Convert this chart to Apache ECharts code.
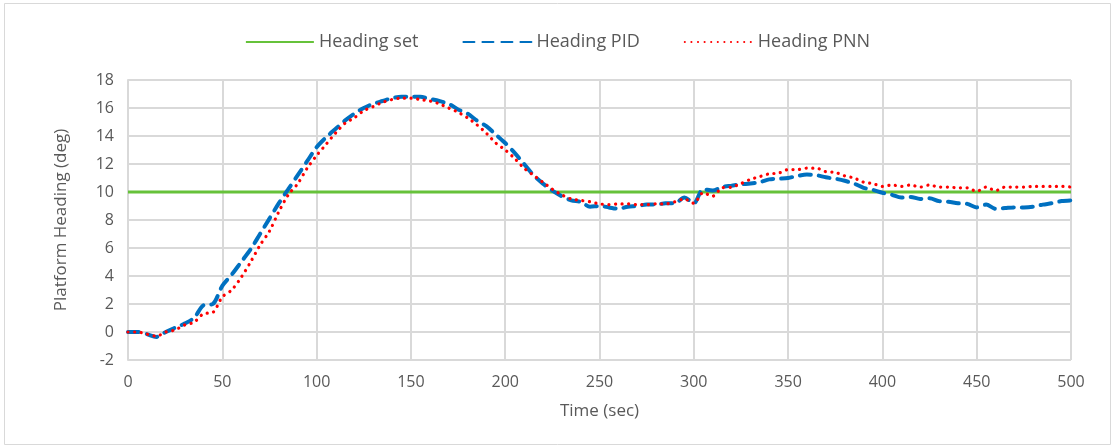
<!DOCTYPE html>
<html>
<head>
<meta charset="utf-8">
<script src="https://cdn.jsdelivr.net/npm/echarts@6/dist/echarts.min.js"></script>
<style>
  html, body { margin: 0; padding: 0; background: #fff; }
  #chart { width: 1115px; height: 448px; }
</style>
</head>
<body>
<div id="chart"></div>
<script>
// time axis (sec), every 5 s
const times = [];
for (let t = 0; t <= 500; t += 5) times.push(t);

const setTimes = [0, 500];
const setValues = [10, 10];

const pidValues = [
  0, 0, -0.15, -0.35, 0, 0.3, 0.6, 1.0, 1.9, 2.0,
  3.3, 4.1, 5.0, 5.9, 7.0, 8.1, 9.2, 10.2, 11.2, 12.2,
  13.2, 13.9, 14.5, 15.1, 15.6, 16.0, 16.3, 16.5, 16.7, 16.8,
  16.8, 16.8, 16.65, 16.5, 16.3, 15.9, 15.6, 15.1, 14.7, 14.1,
  13.5, 12.8, 12.0, 11.2, 10.6, 10.1, 9.7, 9.4, 9.3, 8.95,
  9.0, 8.9, 8.8, 8.95, 9.0, 9.1, 9.1, 9.2, 9.2, 9.6,
  9.2, 10.2, 10.1, 10.35, 10.45, 10.55, 10.6, 10.7, 10.9, 10.95,
  11.0, 11.15, 11.25, 11.2, 11.05, 10.95, 10.8, 10.6, 10.3, 10.15,
  9.95, 9.8, 9.6, 9.65, 9.5, 9.55, 9.35, 9.3, 9.2, 9.15,
  8.9, 9.1, 8.8, 8.85, 8.9, 8.9, 8.95, 9.1, 9.2, 9.35,
  9.4
];

const pnnValues = [
  0, 0, -0.15, -0.3, 0, 0.15, 0.5, 0.7, 1.3, 1.4,
  2.5, 3.0, 3.9, 5.0, 6.2, 7.2, 8.6, 9.8, 10.6, 11.7,
  12.6, 13.4, 14.2, 14.9, 15.3, 15.8, 16.1, 16.4, 16.6, 16.7,
  16.7, 16.6, 16.5, 16.3, 16.0, 15.7, 15.3, 14.8, 14.2, 13.5,
  13.0, 12.4, 11.7, 11.2, 10.7, 10.2, 9.8, 9.5, 9.4, 9.3,
  9.15, 9.1, 9.15, 9.15, 9.1, 9.1, 9.15, 9.15, 9.3, 9.5,
  9.2, 9.95, 9.7, 10.3, 10.35, 10.6, 10.9, 11.1, 11.3, 11.35,
  11.6, 11.6, 11.7, 11.7, 11.45, 11.4, 11.15, 11.0, 10.7, 10.6,
  10.4, 10.5, 10.4, 10.5, 10.35, 10.5, 10.35, 10.35, 10.3, 10.3,
  10.05, 10.35, 10.1, 10.35, 10.35, 10.35, 10.4, 10.4, 10.4, 10.4,
  10.35
];

const zip = (xs, ys) => xs.map((x, i) => [x, ys[i]]);

const chart = echarts.init(document.getElementById('chart'));
const font = '"Open Sans", sans-serif';
const gridColor = '#d9d9d9';
const textColor = '#595959';

const option = {
  backgroundColor: '#fff',
  animation: false,
  graphic: [{
    type: 'rect',
    shape: { x: 4.5, y: 3.5, width: 1106, height: 441 },
    style: { fill: 'none', stroke: '#d9d9d9', lineWidth: 1 },
    silent: true
  }],
  legend: {
    top: 28,
    left: 'center',
    itemGap: 44,
    itemWidth: 68,
    itemHeight: 3,
    itemStyle: { opacity: 0 },
    textStyle: { fontFamily: font, fontSize: 18, color: textColor },
    data: ['Heading set', 'Heading PID', 'Heading PNN']
  },
  grid: { left: 128, right: 44, top: 80, bottom: 88 },
  xAxis: {
    type: 'value',
    min: 0, max: 500, interval: 50,
    name: 'Time (sec)',
    nameLocation: 'middle',
    nameGap: 43,
    nameTextStyle: { fontFamily: font, fontSize: 17, color: textColor },
    axisLine: { show: false },
    axisTick: { show: false },
    axisLabel: { fontFamily: font, fontSize: 16, color: textColor, margin: 14 },
    splitLine: { show: true, lineStyle: { color: gridColor, width: 2 } }
  },
  yAxis: {
    type: 'value',
    min: -2, max: 18, interval: 2,
    name: 'Platform Heading (deg)',
    nameLocation: 'middle',
    nameGap: 58,
    nameTextStyle: { fontFamily: font, fontSize: 17, color: textColor },
    axisLine: { show: true, lineStyle: { color: gridColor, width: 2 } },
    axisTick: { show: false },
    axisLabel: { fontFamily: font, fontSize: 16, color: textColor, margin: 14 },
    splitLine: { show: true, lineStyle: { color: gridColor, width: 2 } }
  },
  series: [
    {
      name: 'Heading set',
      type: 'line',
      data: zip(setTimes, setValues),
      symbol: 'none',
      itemStyle: { color: '#66c23a' },
      lineStyle: { color: '#66c23a', width: 3 },
      z: 2
    },
    {
      name: 'Heading PID',
      type: 'line',
      data: zip(times, pidValues),
      symbol: 'none',
      smooth: 0.3,
      itemStyle: { color: '#0070c0' },
      lineStyle: { color: '#0070c0', width: 4, type: [11, 8], cap: 'round' },
      z: 3
    },
    {
      name: 'Heading PNN',
      type: 'line',
      data: zip(times, pnnValues),
      symbol: 'none',
      smooth: 0.3,
      itemStyle: { color: '#ff0000' },
      lineStyle: { color: '#ff0000', width: 3.2, type: [0.1, 6.5], cap: 'round' },
      z: 4
    }
  ]
};

chart.setOption(option);
</script>
</body>
</html>
